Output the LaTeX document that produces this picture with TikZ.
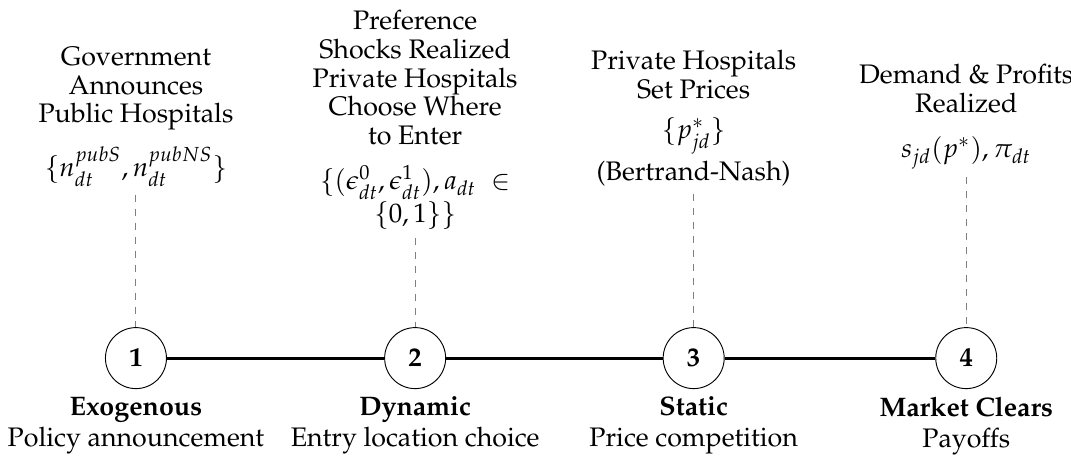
\documentclass[tikz,border=0pt]{standalone}
\usepackage[T1]{fontenc}
\usepackage{amsmath}
\usepackage{amsfonts}
\usepackage{mathpazo}
\usetikzlibrary{positioning}

\begin{document}
\begin{tikzpicture}[font=\fontsize{11.5}{12.3}\selectfont]
  \useasboundingbox (0,0) rectangle (16.15,7.04);
  \begin{scope}[every node/.style={circle,draw,minimum size=0.92cm,inner sep=0pt}]
    % Stages on the timeline
    \node (stage1) at (2.05,1.64) {\textbf{1}};
    \node (stage2) at (6.26,1.64) {\textbf{2}};
    \node (stage3) at (10.46,1.64) {\textbf{3}};
    \node (stage4) at (14.57,1.64) {\textbf{4}};
  \end{scope}

  \draw[very thick] (stage1) -- (stage2);
  \draw[very thick] (stage2) -- (stage3);
  \draw[very thick] (stage3) -- (stage4);

  \begin{scope}[every node/.style={align=center}]
    % What happens at each stage
    \node (above_stage1) at (2.05,5.28) {Government\\Announces\\Public Hospitals\\[6pt]$\{n^{pubS}_{dt}, n^{pubNS}_{dt}\}$};
    \node (above_stage2) at (6.26,5.23) {Preference\\Shocks Realized\\Private Hospitals\\Choose Where\\to Enter\\[7pt]$\{(\epsilon^0_{dt},\epsilon^1_{dt}), a_{dt} \;\in$\\$\{0,1\}\}$};
    \node (above_stage3) at (10.46,5.26) {Private Hospitals\\Set Prices\\[5pt]$\{p^*_{jd}\}$\\[2pt](Bertrand-Nash)};
    \node (above_stage4) at (14.57,5.28) {Demand \& Profits\\Realized\\[7pt]$s_{jd}(p^*), \pi_{dt}$};

    % Stage names
    \node (below_stage1) at (2.05,0.62) {\textbf{Exogenous}\\[1pt]Policy announcement};
    \node (below_stage2) at (6.26,0.62) {\textbf{Dynamic}\\[1pt]Entry location choice};
    \node (below_stage3) at (10.46,0.62) {\textbf{Static}\\[1pt]Price competition};
    \node (below_stage4) at (14.57,0.62) {\textbf{Market Clears}\\[1pt]Payoffs};
  \end{scope}

  \draw[dashed,gray] (above_stage1) -- (stage1);
  \draw[dashed,gray] (above_stage2) -- (stage2);
  \draw[dashed,gray] (above_stage3) -- (stage3);
  \draw[dashed,gray] (above_stage4) -- (stage4);
\end{tikzpicture}
\end{document}
